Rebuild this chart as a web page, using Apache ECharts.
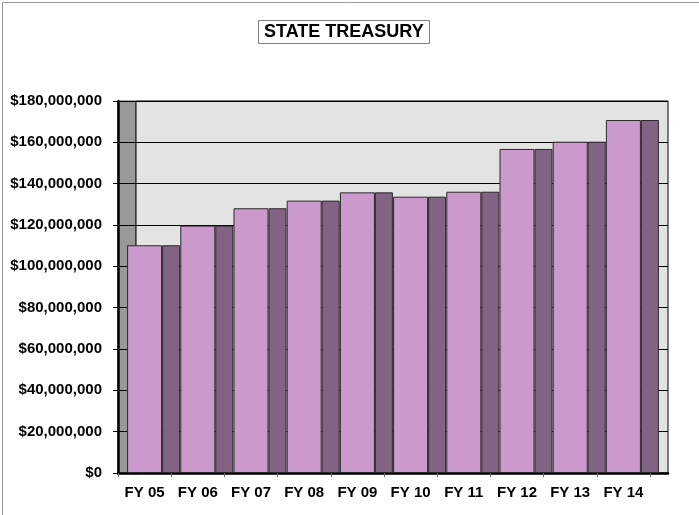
<!DOCTYPE html>
<html>
<head>
<meta charset="utf-8">
<script src="https://cdn.jsdelivr.net/npm/echarts@6/dist/echarts.min.js"></script>
<style>
  html, body { margin: 0; padding: 0; background: #fff; }
  #chart { width: 699px; height: 515px; }
</style>
</head>
<body>
<div id="chart"></div>
<script>
// fiscal years on the x axis
const categories = ["FY 05", "FY 06", "FY 07", "FY 08", "FY 09", "FY 10", "FY 11", "FY 12", "FY 13", "FY 14"];
// treasury balance
const treasury = [110200000, 119700000, 128100000, 131800000, 135800000, 133700000, 136100000, 156800000, 160300000, 170800000];
// value axis range
const yMin = 0;
const yMax = 180000000;
const yStep = 20000000;

const font = "Arial, 'Liberation Sans', sans-serif";

function money(v) {
  return "$" + v.toLocaleString("en-US");
}

const chart = echarts.init(document.getElementById("chart"), null, { renderer: "canvas" });

const hiddenValue = (idx) => ({
  type: "value", gridIndex: idx, min: yMin, max: yMax, interval: yStep, show: false
});

const option = {
  backgroundColor: "#fff",
  animation: false,
  title: {
    text: "STATE TREASURY",
    left: 258,
    top: 20,
    padding: [3, 6],
    borderColor: "#808080",
    borderWidth: 1,
    textStyle: { fontFamily: font, fontSize: 18, fontWeight: "bold", color: "#000" }
  },
  graphic: [
    { type: "line", shape: { x1: 2.5, y1: 2.5, x2: 699, y2: 2.5 }, style: { stroke: "#999", lineWidth: 1 } },
    { type: "line", shape: { x1: 2.5, y1: 2.5, x2: 2.5, y2: 515 }, style: { stroke: "#999", lineWidth: 1 } }
  ],
  grid: [
    // left side wall
    { left: 118, width: 18, top: 101, bottom: 42, show: true, backgroundColor: "#999999", borderColor: "#555", borderWidth: 1 },
    // back wall
    { left: 136, right: 31, top: 101, bottom: 42, show: true, backgroundColor: "#e3e3e3", borderColor: "#000", borderWidth: 1 },
    // category labels
    { left: 118, width: 532, top: 101, bottom: 42 },
    // bars
    { left: 127, width: 532, top: 101, bottom: 42 }
  ],
  xAxis: [
    {
      type: "category", gridIndex: 0, data: [""],
      axisLine: { show: true, lineStyle: { color: "#000", width: 2.5 } },
      axisTick: { show: false }, axisLabel: { show: false }
    },
    {
      type: "category", gridIndex: 1, data: [""],
      axisLine: { show: true, lineStyle: { color: "#000", width: 2.5 } },
      axisTick: { show: false }, axisLabel: { show: false }
    },
    {
      type: "category", gridIndex: 2, data: categories,
      axisLine: { show: false },
      axisTick: { show: true, length: 4, lineStyle: { color: "#666" } },
      axisLabel: { margin: 12, color: "#000", fontFamily: font, fontSize: 15, fontWeight: "bold" }
    },
    { type: "category", gridIndex: 3, data: categories, show: false }
  ],
  yAxis: [
    {
      type: "value", gridIndex: 0, min: yMin, max: yMax, interval: yStep,
      axisLine: { show: true, lineStyle: { color: "#000", width: 2.5 } },
      axisTick: { show: true, length: 5, lineStyle: { color: "#000" } },
      axisLabel: { margin: 16, color: "#000", fontFamily: font, fontSize: 15, fontWeight: "bold", formatter: money },
      splitLine: { show: true, lineStyle: { color: "#000", width: 1 } }
    },
    {
      type: "value", gridIndex: 1, min: yMin, max: yMax, interval: yStep,
      axisLine: { show: false }, axisTick: { show: false }, axisLabel: { show: false },
      splitLine: { show: true, lineStyle: { color: "#000", width: 1 } }
    },
    hiddenValue(2),
    hiddenValue(3)
  ],
  series: [
    {
      name: "front",
      type: "bar",
      xAxisIndex: 3,
      yAxisIndex: 3,
      barWidth: 35,
      barGap: "0%",
      data: treasury,
      itemStyle: { color: "#cc99cc", borderColor: "#2a2a2a", borderWidth: 1 }
    },
    {
      name: "side",
      type: "bar",
      xAxisIndex: 3,
      yAxisIndex: 3,
      barWidth: 18,
      barGap: "0%",
      data: treasury,
      itemStyle: { color: "#836383", borderColor: "#2a2a2a", borderWidth: 1 }
    }
  ]
};

chart.setOption(option);
</script>
</body>
</html>
